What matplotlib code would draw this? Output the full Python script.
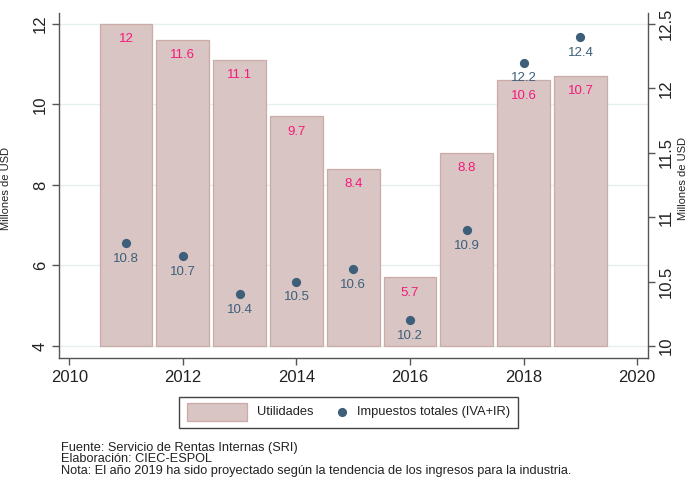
import matplotlib
matplotlib.use("Agg")
import matplotlib.pyplot as plt
from matplotlib.patches import Rectangle
from matplotlib.lines import Line2D

plt.rcParams['font.family'] = ['Liberation Sans', 'DejaVu Sans']

years = [2011, 2012, 2013, 2014, 2015, 2016, 2017, 2018, 2019]
utilidades = [12, 11.6, 11.1, 9.7, 8.4, 5.7, 8.8, 10.6, 10.7]
impuestos = [10.8, 10.7, 10.4, 10.5, 10.6, 10.2, 10.9, 12.2, 12.4]
left_ticks = [4, 6, 8, 10, 12]
right_ticks = [10, 10.5, 11, 11.5, 12, 12.5]
right_labels = ["10", "10.5", "11", "11.5", "12", "12.5"]
x_ticks = [2010, 2012, 2014, 2016, 2018, 2020]
footer = ["Fuente: Servicio de Rentas Internas (SRI)",
          "Elaboración: CIEC-ESPOL",
          "Nota: El año 2019 ha sido proyectado según la tendencia de los ingresos para la industria."]

W, H = 688, 482
fig = plt.figure(figsize=(W / 100, H / 100), dpi=100)
fig.patch.set_facecolor('white')

def fx(px):
    return px / W

def fy(py):
    return 1 - py / H

ax = fig.add_axes([fx(59), fy(358), fx(648) - fx(59), fy(13) - fy(358)])
ax2 = ax.twinx()

bar_fill = '#d9c5c3'
bar_edge = '#c9aba8'
dot_col = '#3d5f7a'
pink = '#f5197a'
axis_col = '#555555'

base = 4
ax.bar(years, [u - base for u in utilidades], bottom=base, width=0.93,
       color=bar_fill, edgecolor=bar_edge, linewidth=0.9, zorder=2)
for x, u in zip(years, utilidades):
    ax.annotate(f"{u:g}", (x, u), xytext=(0, -11), textcoords='offset points',
                ha='center', va='center', color=pink, fontsize=9.5, zorder=5)

ax.set_xlim(2009.82, 2020.19)
ylo, yhi = 3.7, 12.27
ax.set_ylim(ylo, yhi)
ax.set_yticks(left_ticks)
ax.set_yticklabels([str(t) for t in left_ticks], rotation=90, va='center')
ax.set_xticks(x_ticks)
ax.grid(axis='y', color='#e6efef', linewidth=1.0, zorder=0)
ax.set_axisbelow(True)

def l2r(v):
    return 10 + (v - 4) / 3.2

ax2.set_ylim(l2r(ylo), l2r(yhi))
ax2.set_yticks(right_ticks)
ax2.set_yticklabels(right_labels, rotation=90, va='center')
ax2.scatter(years, impuestos, s=44, color=dot_col, zorder=6, linewidths=0)
for x, v in zip(years, impuestos):
    ax2.annotate(f"{v:g}", (x, v), xytext=(0, -11.5), textcoords='offset points',
                 ha='center', va='center', color=dot_col, fontsize=9.5, zorder=6)

for a in (ax, ax2):
    for s in a.spines.values():
        s.set_color(axis_col)
        s.set_linewidth(1.0)
    a.spines['top'].set_visible(False)
    a.tick_params(colors=axis_col, labelcolor='#222222', labelsize=12, length=5, width=1.0)
ax.spines['right'].set_visible(False)
ax2.spines['left'].set_visible(False)
ax2.spines['bottom'].set_visible(False)
ax.tick_params(axis='y', pad=3)
ax2.tick_params(axis='y', pad=3)
ax.tick_params(axis='x', pad=4)

fig.text(fx(6), fy(188), "Millones de USD", rotation=90, ha='center', va='center',
         fontsize=8, color='#222222')
fig.text(fx(683), fy(178), "Millones de USD", rotation=90, ha='center', va='center',
         fontsize=8, color='#222222')

# legend
fig.patches.append(Rectangle((fx(179), fy(428)), fx(518) - fx(179), fy(397) - fy(428),
                             transform=fig.transFigure, facecolor='white',
                             edgecolor='#444444', linewidth=1.0))
fig.patches.append(Rectangle((fx(187), fy(421)), fx(247) - fx(187), fy(403) - fy(421),
                             transform=fig.transFigure, facecolor=bar_fill,
                             edgecolor=bar_edge, linewidth=0.9))
fig.lines.append(Line2D([fx(342)], [fy(412)], transform=fig.transFigure, marker='o',
                        markersize=6.6, color=dot_col, markeredgewidth=0, linestyle='none'))
fig.text(fx(257), fy(412), "Utilidades", ha='left', va='center', fontsize=9.3, color='#222222')
fig.text(fx(357), fy(412), "Impuestos totales (IVA+IR)", ha='left', va='center',
         fontsize=9.3, color='#222222')

for i, line in enumerate(footer):
    fig.text(fx(61), fy(446 + 11.7 * i), line, ha='left', va='center_baseline', fontsize=9.2,
             color='#222222')

fig.savefig("out.png", dpi=100)
